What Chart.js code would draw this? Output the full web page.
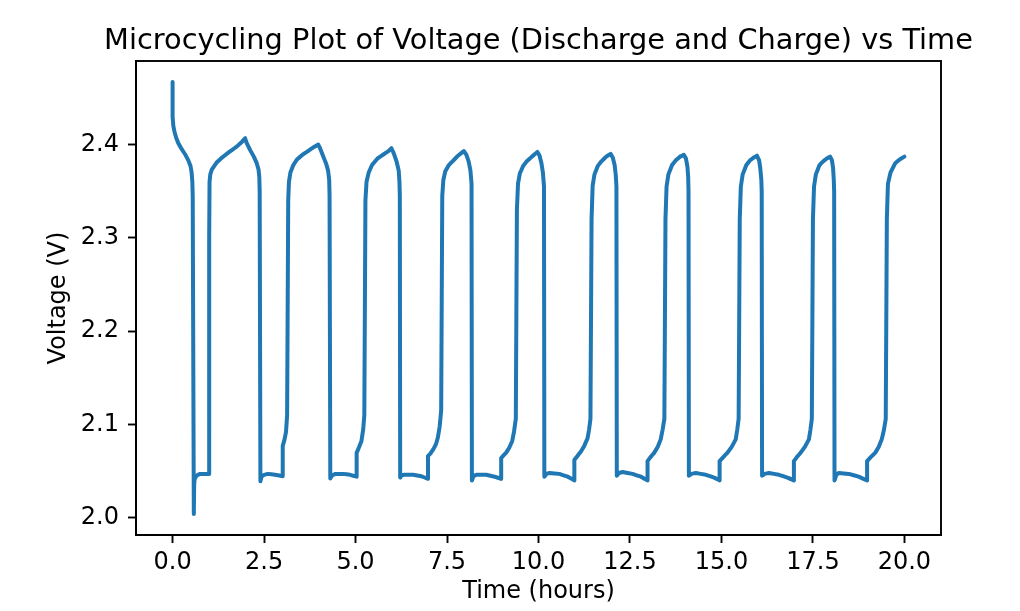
<!DOCTYPE html>
<html>
<head>
<meta charset="utf-8">
<script src="https://cdn.jsdelivr.net/npm/chart.js@4.4.0/dist/chart.umd.min.js"></script>
<style>
  html, body { margin: 0; padding: 0; background: #fff; }
  #wrap { width: 1020px; height: 611px; }
</style>
</head>
<body>
<div id="wrap"><canvas id="cycleChart" width="1020" height="611"></canvas></div>
<script>
// ============================================================
// DATA
// ============================================================
var chartTitle = 'Microcycling Plot of Voltage (Discharge and Charge) vs Time';
var xLabel = 'Time (hours)';
var yLabel = 'Voltage (V)';

var xTicks = [0, 2.5, 5, 7.5, 10, 12.5, 15, 17.5, 20];
var yTicks = [2.0, 2.1, 2.2, 2.3, 2.4];

// time (h) and voltage (V), point by point along the trace
var timeHours = [
  0.00, 0.00, 0.02, 0.05, 0.10, 0.16, 0.25, 0.35, 0.43, 0.49, 0.52, 0.54, 0.55, 0.58,
  0.59, 0.60, 0.65, 0.75, 0.90, 1.00,
  1.00, 1.01, 1.03, 1.07, 1.14, 1.21, 1.35, 1.48, 1.62, 1.76, 1.90, 1.98,
  2.02, 2.12, 2.22, 2.30, 2.35, 2.37, 2.38, 2.40,
  2.43, 2.50, 2.60, 2.80, 2.95, 3.01,
  3.01, 3.06, 3.10, 3.13, 3.16, 3.18, 3.22, 3.30, 3.40, 3.55, 3.70, 3.85, 3.98,
  4.03, 4.12, 4.20, 4.25, 4.28, 4.29, 4.31,
  4.35, 4.45, 4.65, 4.85, 5.03,
  5.03, 5.10, 5.16, 5.21, 5.24, 5.27, 5.30, 5.36, 5.45, 5.60, 5.75, 5.90, 5.98,
  6.04, 6.12, 6.18, 6.20, 6.21, 6.22,
  6.26, 6.34, 6.57, 6.80, 6.98,
  6.98, 7.05, 7.12, 7.20, 7.25, 7.30, 7.34, 7.37, 7.40, 7.45, 7.55, 7.65, 7.80, 7.96,
  8.03, 8.09, 8.14, 8.17, 8.18,
  8.23, 8.30, 8.57, 8.80, 8.98,
  8.98, 9.05, 9.12, 9.20, 9.28, 9.33, 9.38, 9.41, 9.44, 9.49, 9.58, 9.68, 9.82, 9.97,
  10.03, 10.08, 10.12, 10.15, 10.16,
  10.22, 10.30, 10.57, 10.80, 10.98,
  10.98, 11.06, 11.16, 11.25, 11.34, 11.38, 11.42, 11.45, 11.48, 11.53, 11.62, 11.72, 11.85, 11.97,
  12.03, 12.08, 12.11, 12.13, 12.14,
  12.20, 12.30, 12.57, 12.80, 12.98,
  12.98, 13.06, 13.16, 13.26, 13.34, 13.39, 13.44, 13.47, 13.50, 13.55, 13.65, 13.75, 13.87, 13.97,
  14.03, 14.07, 14.09, 14.10, 14.11,
  14.18, 14.30, 14.57, 14.80, 14.95,
  14.95, 15.05, 15.16, 15.28, 15.39, 15.43, 15.47, 15.50, 15.53, 15.58, 15.68, 15.78, 15.88, 15.97,
  16.03, 16.06, 16.09, 16.10, 16.11,
  16.18, 16.30, 16.57, 16.80, 16.98,
  16.98, 17.06, 17.16, 17.28, 17.39, 17.43, 17.47, 17.50, 17.53, 17.58, 17.68, 17.78, 17.88, 17.97,
  18.02, 18.05, 18.07, 18.08, 18.09,
  18.14, 18.20, 18.48, 18.75, 18.98,
  18.98, 19.08, 19.20, 19.30, 19.38, 19.44, 19.49, 19.52, 19.55, 19.62, 19.75, 19.87, 20.00
];
var voltage = [
  2.467, 2.430, 2.420, 2.414, 2.407, 2.401, 2.395, 2.389, 2.383, 2.377, 2.370, 2.360, 2.345, 2.004,
  2.035, 2.041, 2.045, 2.047, 2.047, 2.047,
  2.300, 2.360, 2.368, 2.373, 2.377, 2.381, 2.386, 2.390, 2.394, 2.398, 2.403, 2.407,
  2.402, 2.394, 2.387, 2.380, 2.373, 2.365, 2.350, 2.039,
  2.044, 2.046, 2.047, 2.046, 2.045, 2.0445,
  2.077, 2.084, 2.092, 2.110, 2.340, 2.360, 2.370, 2.378, 2.384, 2.389, 2.393, 2.397, 2.400,
  2.396, 2.387, 2.379, 2.372, 2.362, 2.345, 2.042,
  2.045, 2.047, 2.047, 2.046, 2.044,
  2.0695, 2.076, 2.082, 2.095, 2.110, 2.340, 2.360, 2.370, 2.378, 2.385, 2.389, 2.393, 2.396,
  2.391, 2.382, 2.372, 2.360, 2.345, 2.043,
  2.0455, 2.046, 2.046, 2.0445, 2.0417,
  2.066, 2.069, 2.073, 2.079, 2.086, 2.098, 2.115, 2.345, 2.362, 2.371, 2.378, 2.382, 2.388, 2.393,
  2.389, 2.382, 2.372, 2.358, 2.040,
  2.045, 2.046, 2.046, 2.044, 2.0417,
  2.064, 2.067, 2.070, 2.075, 2.082, 2.092, 2.106, 2.330, 2.358, 2.369, 2.377, 2.382, 2.387, 2.392,
  2.388, 2.380, 2.370, 2.355, 2.044,
  2.047, 2.048, 2.047, 2.044, 2.040,
  2.062, 2.066, 2.071, 2.077, 2.085, 2.094, 2.106, 2.320, 2.356, 2.368, 2.377, 2.382, 2.387, 2.390,
  2.386, 2.378, 2.368, 2.355, 2.045,
  2.048, 2.049, 2.047, 2.044, 2.040,
  2.0606, 2.065, 2.0695, 2.076, 2.084, 2.094, 2.106, 2.320, 2.355, 2.368, 2.378, 2.383, 2.387, 2.389,
  2.385, 2.376, 2.366, 2.350, 2.045,
  2.047, 2.048, 2.046, 2.043, 2.040,
  2.0606, 2.065, 2.0695, 2.076, 2.084, 2.094, 2.106, 2.320, 2.355, 2.368, 2.378, 2.383, 2.386, 2.388,
  2.383, 2.375, 2.362, 2.350, 2.045,
  2.047, 2.048, 2.046, 2.043, 2.040,
  2.0606, 2.065, 2.0695, 2.076, 2.084, 2.094, 2.106, 2.320, 2.355, 2.368, 2.378, 2.382, 2.385, 2.387,
  2.383, 2.375, 2.362, 2.350, 2.040,
  2.046, 2.048, 2.047, 2.044, 2.040,
  2.0606, 2.065, 2.0695, 2.076, 2.084, 2.094, 2.106, 2.320, 2.358, 2.370, 2.380, 2.384, 2.387
];

// ============================================================
// CHART
// ============================================================
var FONT = "'DejaVu Sans', sans-serif";
var AXIS_COLOR = '#000000';

// box round the plot area + title centred over the axes (matplotlib style)
var frameBox = {
  id: 'frameBox',
  afterDatasetsDraw: function (chart) {
    var a = chart.chartArea, ctx = chart.ctx;
    ctx.save();
    ctx.strokeStyle = AXIS_COLOR;
    ctx.lineWidth = 1.9;
    ctx.strokeRect(a.left, a.top, a.right - a.left, a.bottom - a.top);
    ctx.restore();
  },
  afterDraw: function (chart) {
    var a = chart.chartArea, ctx = chart.ctx;
    ctx.save();
    ctx.fillStyle = '#000';
    ctx.font = '28.8px ' + FONT;
    ctx.textAlign = 'center';
    ctx.textBaseline = 'alphabetic';
    ctx.fillText(chartTitle, (a.left + a.right) / 2, 48.5);
    ctx.restore();
  }
};

var points = timeHours.map(function (t, i) { return { x: t, y: voltage[i] }; });

new Chart(document.getElementById('cycleChart').getContext('2d'), {
  type: 'line',
  data: {
    datasets: [{
      label: 'Voltage',
      data: points,
      borderColor: '#1f77b4',
      borderWidth: 4,
      pointRadius: 0,
      tension: 0.001,          // non-zero so Chart.js skips its pixel-merging fast path
      borderJoinStyle: 'round',
      borderCapStyle: 'round',
      fill: false
    }]
  },
  options: {
    responsive: false,
    animation: false,
    layout: { padding: { left: 40, right: 79, top: 61, bottom: 0 } },
    plugins: {
      legend: { display: false },
      tooltip: { enabled: false },
      title: { display: false }
    },
    scales: {
      x: {
        type: 'linear', min: -1, max: 21,
        afterBuildTicks: function (s) { s.ticks = xTicks.map(function (v) { return { value: v }; }); },
        afterFit: function (s) { s.height = 76; },
        ticks: {
          color: '#000', padding: 5, maxRotation: 0, autoSkip: false,
          font: { family: FONT, size: 24 },
          callback: function (v) { return Number(v).toFixed(1); }
        },
        grid: { drawOnChartArea: false, drawTicks: true, tickLength: 8, tickColor: AXIS_COLOR, tickWidth: 1.9 },
        border: { display: true, color: AXIS_COLOR, width: 1.9 },
        title: { display: true, text: xLabel, color: '#000', font: { family: FONT, size: 24 }, padding: { top: 0, bottom: 5 } }
      },
      y: {
        type: 'linear', min: 1.9815, max: 2.4895,
        afterBuildTicks: function (s) { s.ticks = yTicks.map(function (v) { return { value: v }; }); },
        afterFit: function (s) { s.width = 96; },
        ticks: {
          color: '#000', padding: 9, autoSkip: false,
          font: { family: FONT, size: 24 },
          callback: function (v) { return Number(v).toFixed(1); }
        },
        grid: { drawOnChartArea: false, drawTicks: true, tickLength: 8, tickColor: AXIS_COLOR, tickWidth: 1.9 },
        border: { display: true, color: AXIS_COLOR, width: 1.9 },
        title: { display: true, text: yLabel, color: '#000', font: { family: FONT, size: 24 }, padding: { top: 4, bottom: 0 } }
      }
    }
  },
  plugins: [frameBox]
});
</script>
</body>
</html>
